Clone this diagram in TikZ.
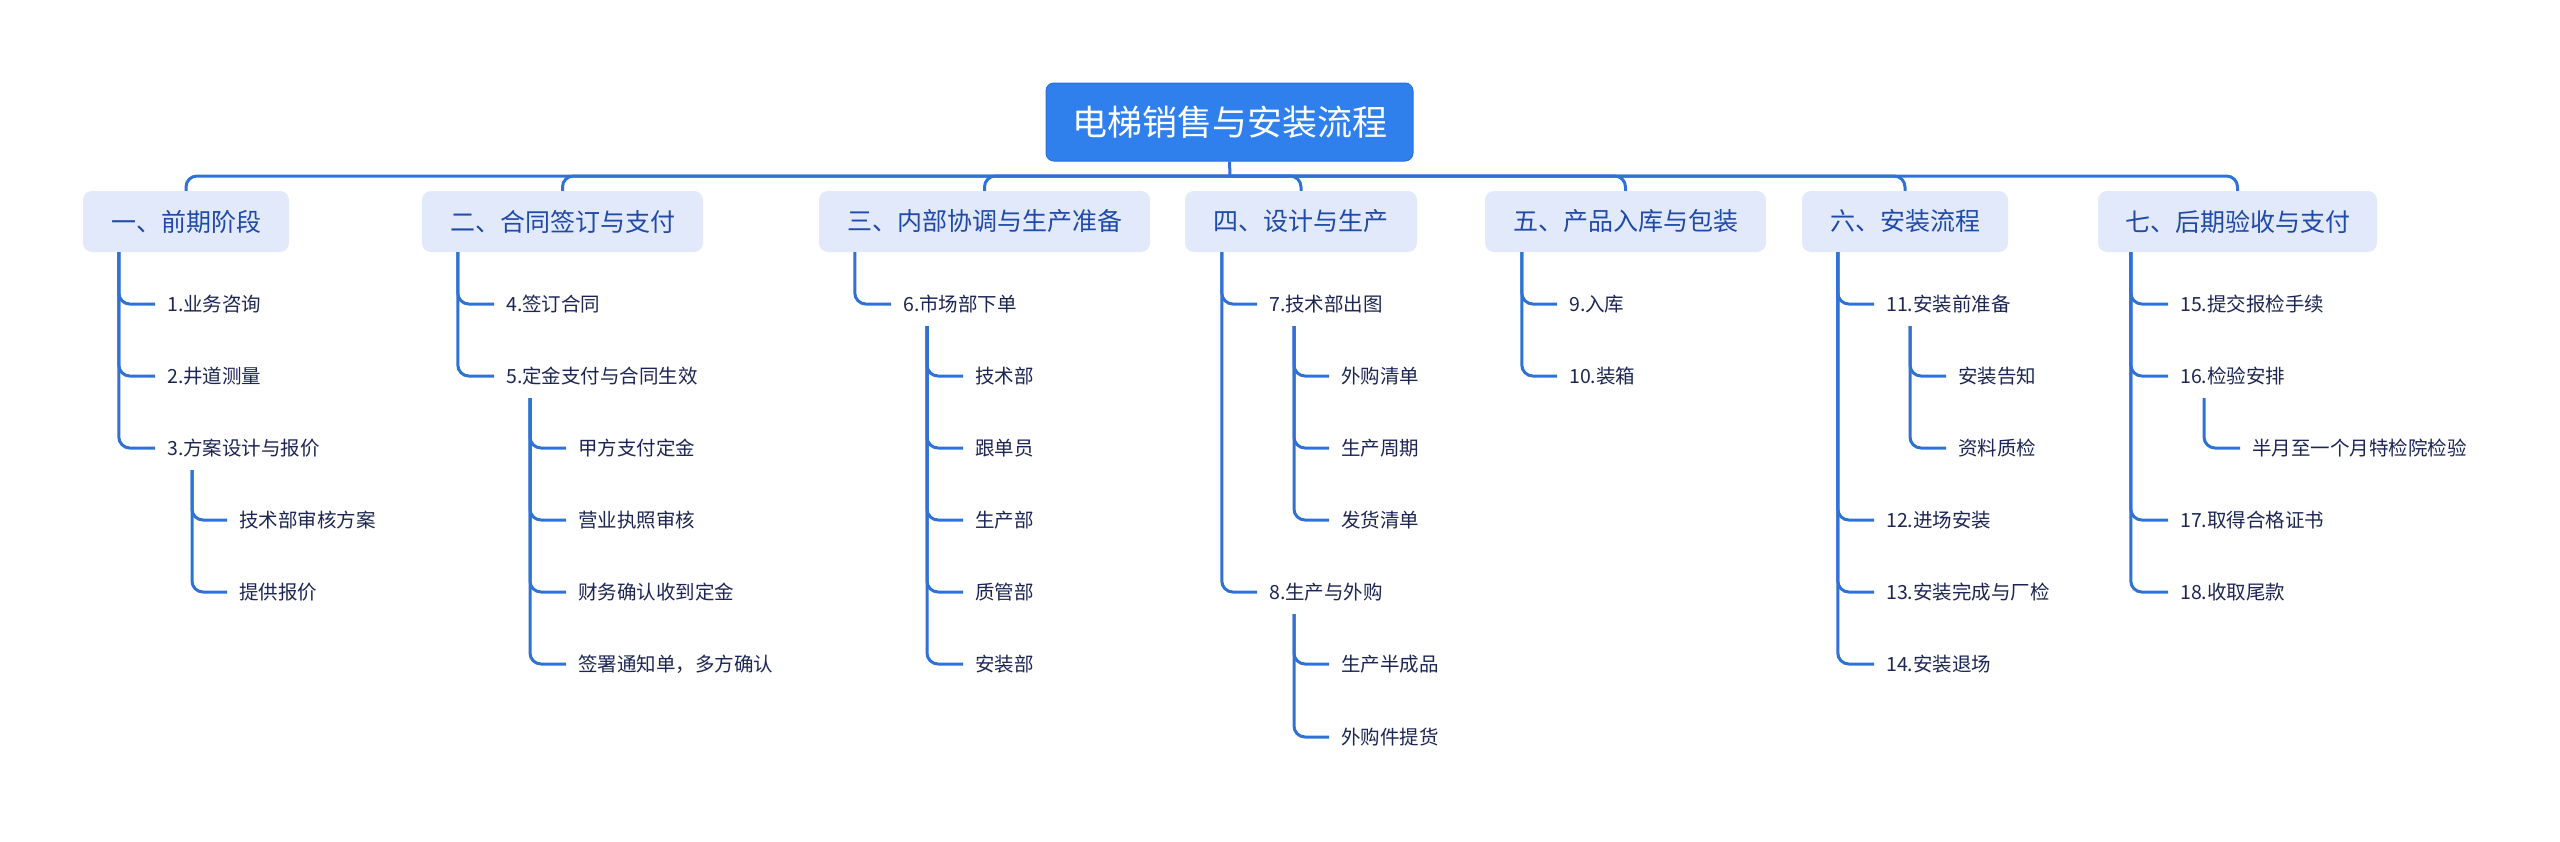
\documentclass[tikz,border=0pt]{standalone}
\usepackage{fontspec}
\setmainfont{Noto Sans CJK SC}
\definecolor{rootblue}{HTML}{2F80ED}
\definecolor{rootedge}{HTML}{2A70D6}
\definecolor{boxfill}{HTML}{E2E9FB}
\definecolor{boxtext}{HTML}{1F4AA8}
\definecolor{leaftext}{HTML}{1C2553}
\definecolor{linkblue}{HTML}{2F72D6}
\tikzset{
  rootbox/.style={draw=rootedge, line width=1pt, fill=rootblue, rounded corners=8pt, text=white,
    minimum width=367pt, minimum height=78pt, inner sep=0pt, font=\fontsize{35}{40}\selectfont},
  topicbox/.style={fill=boxfill, rounded corners=9pt, text=boxtext, minimum height=61pt, inner sep=0pt,
    font=\fontsize{25}{30}\selectfont},
  leaf/.style={anchor=west, inner xsep=12pt, inner ysep=2pt, text=leaftext, font=\fontsize{19.5}{23}\selectfont},
  link/.style={draw=linkblue, line width=3pt, rounded corners=11pt},
}
\begin{document}
\begin{tikzpicture}[x=1pt,y=-1pt]
\useasboundingbox (0,0) rectangle (2560,841);
% rows
\def\ra{304}\def\rb{376}\def\rc{448}\def\rd{520}\def\re{592}\def\rf{664}\def\rg{737}
% root
\node[rootbox] (root) at (1229.5,122) {电梯销售与安装流程};
\coordinate (bus) at (1230,176);
% topics
\node[topicbox, minimum width=206pt] (n1) at (186,221.5) {一、前期阶段};
\node[topicbox, minimum width=281pt] (n2) at (562.5,221.5) {二、合同签订与支付};
\node[topicbox, minimum width=331pt] (n3) at (984.5,221.5) {三、内部协调与生产准备};
\node[topicbox, minimum width=232pt] (n4) at (1301,221.5) {四、设计与生产};
\node[topicbox, minimum width=281pt] (n5) at (1625.5,221.5) {五、产品入库与包装};
\node[topicbox, minimum width=206pt] (n6) at (1905,221.5) {六、安装流程};
\node[topicbox, minimum width=279pt] (n7) at (2237.5,221.5) {七、后期验收与支付};
\draw[link] (root.south) -- (bus);
\foreach \n in {n1,n2,n3,n4,n5,n6,n7}{
  \draw[link] (bus) -| (\n.north);
}
% node 1
\node[leaf] (a1) at (155,\ra) {1.业务咨询};
\node[leaf] (a2) at (155,\rb) {2.井道测量};
\node[leaf] (a3) at (155,\rc) {3.方案设计与报价};
\node[leaf] (a31) at (227,\rd) {技术部审核方案};
\node[leaf] (a32) at (227,\re) {提供报价};
\foreach \c in {a1,a2,a3}{ \draw[link] (n1.south west) ++(36,0) |- (\c.west); }
\foreach \c in {a31,a32}{ \draw[link] (a3.west) ++(37,22) |- (\c.west); }
% node 2
\node[leaf] (b1) at (494,\ra) {4.签订合同};
\node[leaf] (b2) at (494,\rb) {5.定金支付与合同生效};
\node[leaf] (b21) at (566,\rc) {甲方支付定金};
\node[leaf] (b22) at (566,\rd) {营业执照审核};
\node[leaf] (b23) at (566,\re) {财务确认收到定金};
\node[leaf] (b24) at (566,\rf) {签署通知单，多方确认};
\foreach \c in {b1,b2}{ \draw[link] (n2.south west) ++(36,0) |- (\c.west); }
\foreach \c in {b21,b22,b23,b24}{ \draw[link] (b2.west) ++(36,22) |- (\c.west); }
% node 3
\node[leaf] (c1) at (891,\ra) {6.市场部下单};
\node[leaf] (c11) at (963,\rb) {技术部};
\node[leaf] (c12) at (963,\rc) {跟单员};
\node[leaf] (c13) at (963,\rd) {生产部};
\node[leaf] (c14) at (963,\re) {质管部};
\node[leaf] (c15) at (963,\rf) {安装部};
\draw[link] (n3.south west) ++(36,0) |- (c1.west);
\foreach \c in {c11,c12,c13,c14,c15}{ \draw[link] (c1.west) ++(36,22) |- (\c.west); }
% node 4
\node[leaf] (d1) at (1257,\ra) {7.技术部出图};
\node[leaf] (d11) at (1329,\rb) {外购清单};
\node[leaf] (d12) at (1329,\rc) {生产周期};
\node[leaf] (d13) at (1329,\rd) {发货清单};
\node[leaf] (d2) at (1257,\re) {8.生产与外购};
\node[leaf] (d21) at (1329,\rf) {生产半成品};
\node[leaf] (d22) at (1329,\rg) {外购件提货};
\foreach \c in {d1,d2}{ \draw[link] (n4.south west) ++(37,0) |- (\c.west); }
\foreach \c in {d11,d12,d13}{ \draw[link] (d1.west) ++(37,22) |- (\c.west); }
\foreach \c in {d21,d22}{ \draw[link] (d2.west) ++(37,22) |- (\c.west); }
% node 5
\node[leaf] (e1) at (1557,\ra) {9.入库};
\node[leaf] (e2) at (1557,\rb) {10.装箱};
\foreach \c in {e1,e2}{ \draw[link] (n5.south west) ++(37,0) |- (\c.west); }
% node 6
\node[leaf] (f1) at (1874,\ra) {11.安装前准备};
\node[leaf] (f11) at (1946,\rb) {安装告知};
\node[leaf] (f12) at (1946,\rc) {资料质检};
\node[leaf] (f2) at (1874,\rd) {12.进场安装};
\node[leaf] (f3) at (1874,\re) {13.安装完成与厂检};
\node[leaf] (f4) at (1874,\rf) {14.安装退场};
\foreach \c in {f1,f2,f3,f4}{ \draw[link] (n6.south west) ++(36,0) |- (\c.west); }
\foreach \c in {f11,f12}{ \draw[link] (f1.west) ++(36,22) |- (\c.west); }
% node 7
\node[leaf] (g1) at (2168,\ra) {15.提交报检手续};
\node[leaf] (g2) at (2168,\rb) {16.检验安排};
\node[leaf] (g21) at (2240,\rc) {半月至一个月特检院检验};
\node[leaf] (g3) at (2168,\rd) {17.取得合格证书};
\node[leaf] (g4) at (2168,\re) {18.收取尾款};
\foreach \c in {g1,g2,g3,g4}{ \draw[link] (n7.south west) ++(33,0) |- (\c.west); }
\draw[link] (g2.west) ++(36,22) |- (g21.west);
\end{tikzpicture}
\end{document}
